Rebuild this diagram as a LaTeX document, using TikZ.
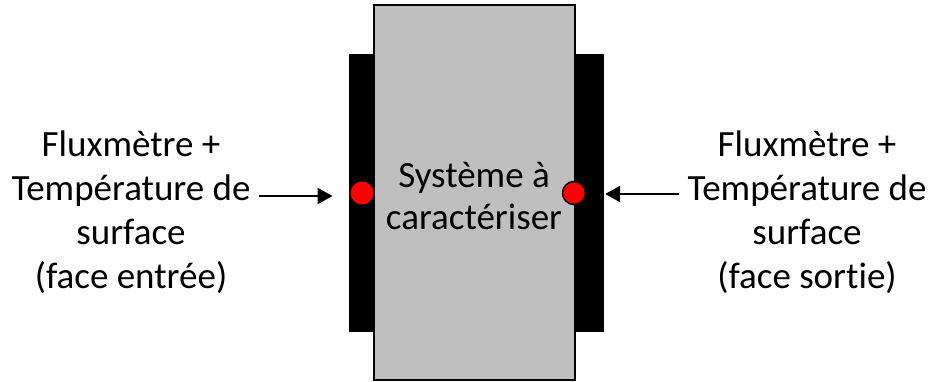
\documentclass[tikz,border=0pt]{standalone}
\usepackage{fontspec}
\setmainfont{Carlito}[Ligatures=NoCommon]
\usepackage{xcolor}
\usetikzlibrary{positioning, arrows.meta}
\tikzstyle{plate} = [rectangle, draw=none, fill=black, inner sep=0pt]
\tikzstyle{arrow} = [line width=2.6pt,-{Triangle[length=15pt,width=16pt]}]

\begin{document}
\begin{tikzpicture}[x=1pt, y=-1pt,
    sample/.style={rectangle, draw, line width=1.8pt, fill=black!25, minimum width=201pt, minimum height=375pt, inner sep=0pt},
    sensor/.style={circle, fill=red, inner sep=0pt, minimum size=23pt},
    label/.style={align=center, inner sep=0pt, font=\fontsize{37}{44}\selectfont}]
    \useasboundingbox (0,0) rectangle (932,381);

    % Plates behind the sample
    \node[plate, minimum width=25.6pt, minimum height=278pt] (inplate) at (361.5,193) {};
    \node[plate, minimum width=29pt, minimum height=278pt] (outplate) at (589.5,193) {};

    % Sample
    \node[sample] (system) at (474.5,192.5) {};
    \node[font=\fontsize{37}{42}\selectfont, align=center] (systext) at (474,196) {Système à\\caractériser};

    % Sensors
    \node[sensor] (indot) at (362,193) {};
    \node[sensor, draw=black, line width=1.5pt] (outdot) at (574,193) {};

    % Side labels
    \node[label] (intext) at (131,212) {Fluxmètre +\\Température de\\surface\\(face entrée)};
    \node[label] (outtext) at (807,212) {Fluxmètre +\\Température de\\surface\\(face sortie)};

    % Arrows
    \draw[arrow] ([xshift=8pt, yshift=-3pt]intext.east |- indot) -- ([xshift=-16pt, yshift=-3pt]inplate.west |- indot);
    \draw[arrow] ([xshift=-8pt, yshift=-1pt]outtext.west |- outdot) -- ([xshift=1pt, yshift=-1pt]outplate.east |- outdot);

\end{tikzpicture}
\end{document}
